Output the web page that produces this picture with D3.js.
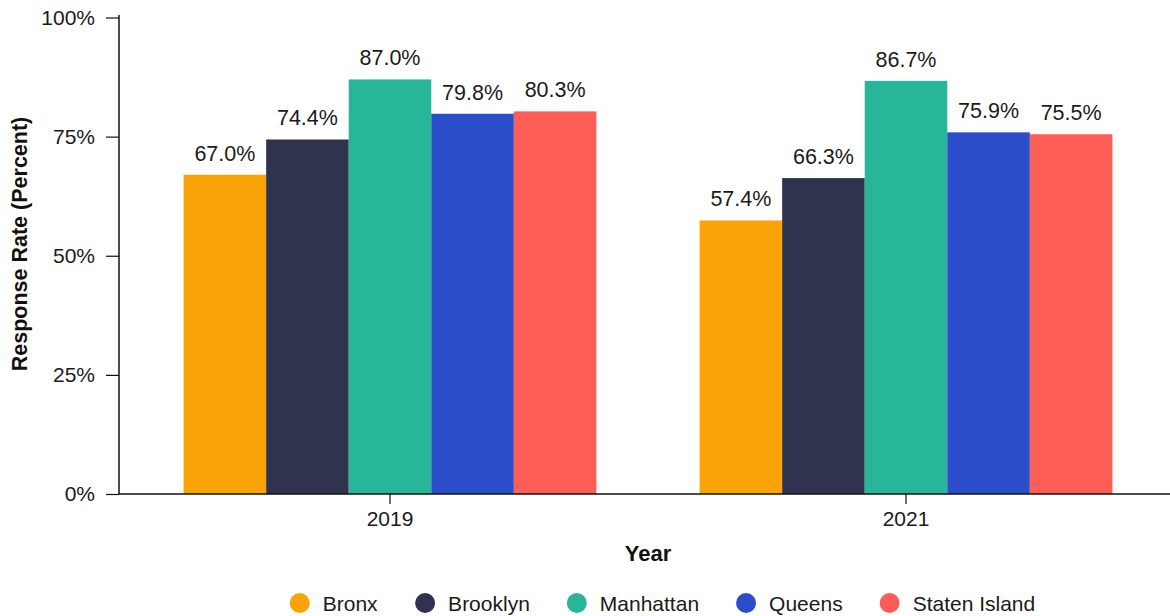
<!DOCTYPE html>
<html>
<head>
<meta charset="utf-8">
<script src="https://cdn.jsdelivr.net/npm/d3@7"></script>
<style>
  html, body { margin: 0; padding: 0; background: #fff; }
  svg { display: block; font-family: "Liberation Sans", Arial, Helvetica, sans-serif; }
</style>
</head>
<body>
<svg id="chart" width="1170" height="616"></svg>
<script>
// Survey response rates by borough
const years = ["2019", "2021"];
const boroughs = ["Bronx", "Brooklyn", "Manhattan", "Queens", "Staten Island"];
const rates2019 = [67.0, 74.4, 87.0, 79.8, 80.3];
const rates2021 = [57.4, 66.3, 86.7, 75.9, 75.5];
const colors = ["#F9A307", "#2F334E", "#27B697", "#2B4DC9", "#FC5E55"];
const yTicks = [0, 25, 50, 75, 100];

const series = { "2019": rates2019, "2021": rates2021 };
const rows = years.flatMap(yr => boroughs.map((b, i) => ({ year: yr, borough: b, value: series[yr][i] })));

const svg = d3.select("#chart");
const plotLeft = 119, plotRight = 1170, plotTop = 17.5, plotBottom = 494;
const labelSize = 21;

const x0 = d3.scaleBand().domain(years).range([132, 1164]).paddingInner(0.2).paddingOuter(0.1);
const x1 = d3.scaleBand().domain(boroughs).range([0, x0.bandwidth()]);
const y = d3.scaleLinear().domain([0, 100]).range([plotBottom, plotTop]);
const color = d3.scaleOrdinal().domain(boroughs).range(colors);

// bars
svg.append("g").selectAll("rect").data(rows).join("rect")
  .attr("x", d => x0(d.year) + x1(d.borough))
  .attr("y", d => y(d.value))
  .attr("width", x1.bandwidth())
  .attr("height", d => y(0) - y(d.value))
  .attr("fill", d => color(d.borough));

// value labels
svg.append("g").selectAll("text").data(rows).join("text")
  .attr("x", d => x0(d.year) + x1(d.borough) + x1.bandwidth() / 2)
  .attr("y", d => y(d.value) - 14)
  .attr("text-anchor", "middle")
  .attr("font-size", 21.5)
  .attr("fill", "#1a1a1a")
  .text(d => d.value.toFixed(1) + "%");

// y axis
const yAxis = svg.append("g").attr("transform", `translate(${plotLeft},0)`)
  .call(d3.axisLeft(y).tickValues(yTicks).tickFormat(d => d + "%").tickSize(13).tickPadding(11).tickSizeOuter(0));
yAxis.select(".domain").attr("d", `M0,${plotTop - 2.5}V${plotBottom}`).attr("stroke", "#111").attr("stroke-width", 1.5);
yAxis.selectAll(".tick line").attr("stroke", "#111").attr("stroke-width", 1.2);
yAxis.selectAll(".tick text").attr("font-size", labelSize).attr("fill", "#1a1a1a").attr("font-family", null);

// x axis
const xAxis = svg.append("g").attr("transform", `translate(0,${plotBottom})`)
  .call(d3.axisBottom(x0).tickSize(10).tickPadding(7).tickSizeOuter(0));
xAxis.select(".domain").attr("d", `M${plotLeft},0H${plotRight}`).attr("stroke", "#111").attr("stroke-width", 1.5);
xAxis.selectAll(".tick line").attr("stroke", "#111").attr("stroke-width", 1.2);
xAxis.selectAll(".tick text").attr("font-size", labelSize).attr("fill", "#1a1a1a").attr("font-family", null);

// axis titles
svg.append("text")
  .attr("x", 648).attr("y", 561)
  .attr("text-anchor", "middle").attr("font-size", 22).attr("font-weight", "bold").attr("fill", "#111")
  .text("Year");
svg.append("text")
  .attr("transform", "translate(27,244) rotate(-90)")
  .attr("text-anchor", "middle").attr("font-size", 21.5).attr("font-weight", "bold").attr("fill", "#111")
  .text("Response Rate (Percent)");

// legend, centered below the plot
const legend = svg.append("g");
const items = legend.selectAll("g").data(boroughs).join("g");
items.append("circle").attr("r", 10).attr("cx", 10).attr("cy", 0).attr("fill", d => color(d));
items.append("text").attr("x", 33).attr("y", 7.5).attr("font-size", labelSize).attr("fill", "#1a1a1a").text(d => d);
let offset = 0;
items.each(function () {
  d3.select(this).attr("transform", `translate(${offset},0)`);
  offset += this.getBBox().width + 37;
});
const total = offset - 37;
legend.attr("transform", `translate(${662.5 - total / 2},603)`);
</script>
</body>
</html>
